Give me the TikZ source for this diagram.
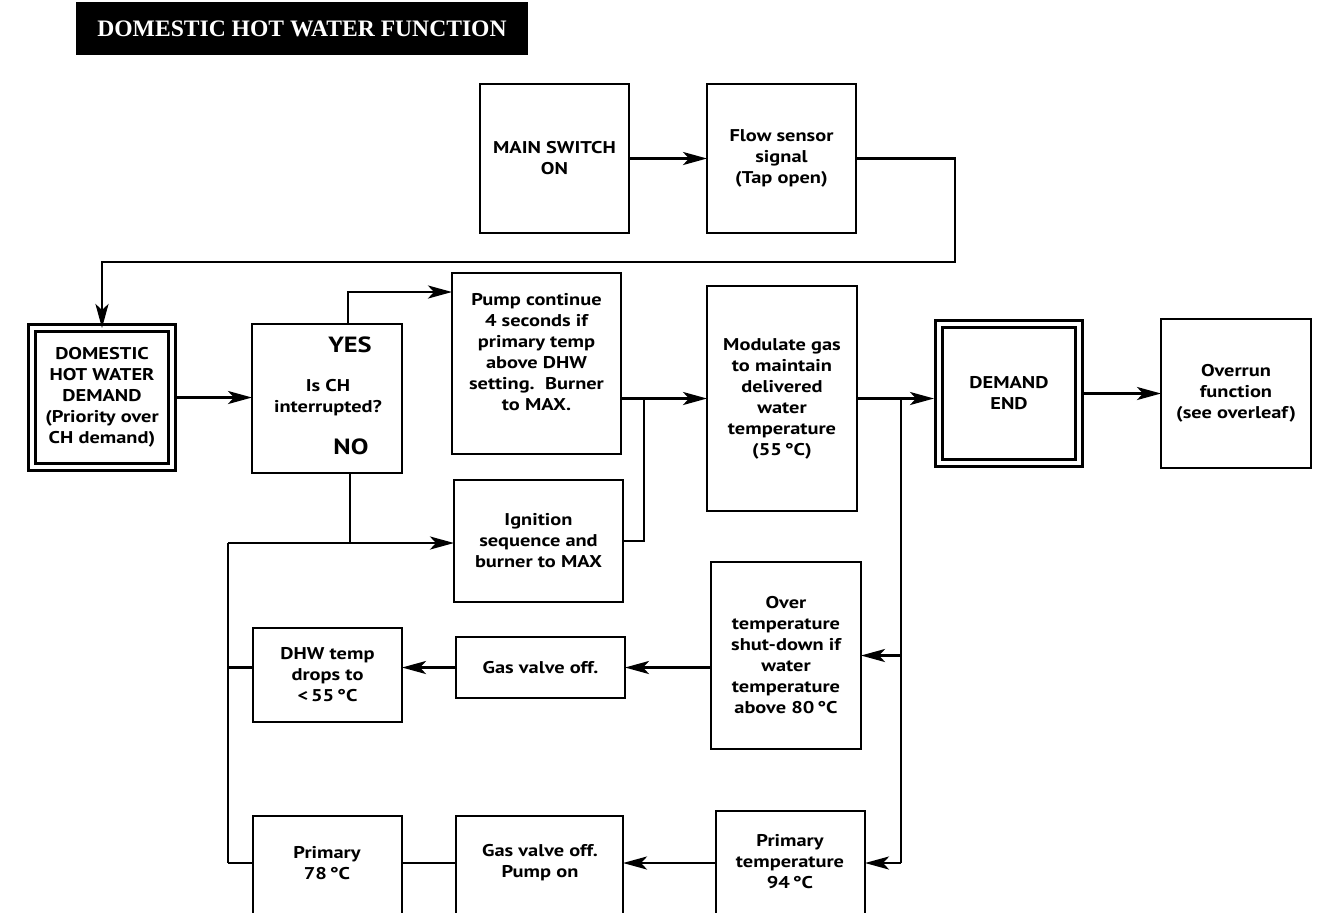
\documentclass[tikz,border=0pt]{standalone}
\usepackage{fontspec}
\setmainfont{PT Sans}[FakeStretch=1.2]
\newfontfamily\titlefont{Liberation Serif}
\usetikzlibrary{arrows.meta,calc}
\newcommand\boxat[6]{\node[box, minimum width={(#4-#2)*0.5pt}, minimum height={(#5-#3)*0.5pt}] (#1) at ({(#2+#4)/2},{(#3+#5)/2}) {#6};}
\newcommand\dboxat[6]{\node[dbox, minimum width={(#4-#2-10)*0.5pt}, minimum height={(#5-#3-10)*0.5pt}] (#1) at ({(#2+#4)/2},{(#3+#5)/2}) {#6};}
\tikzset{
  box/.style={draw, line width=1.3pt, inner sep=0pt, outer sep=0pt, align=center, font=\bfseries\fontsize{8.5}{10.5}\selectfont},
  dbox/.style={draw, line width=1.5pt, double, double distance=2pt, inner sep=0pt, outer sep=0pt, align=center, font=\bfseries\fontsize{8.5}{10.5}\selectfont},
  txt/.style={inner sep=0pt, align=center, font=\bfseries\fontsize{8.5}{10.5}\selectfont},
  big/.style={inner sep=0pt, font=\bfseries\fontsize{11}{13}\selectfont},
  conn/.style={line width=1.4pt},
  arr/.style={conn, -{Stealth[length=12pt,width=6.5pt,inset=3pt]}}
}
\begin{document}
\begin{tikzpicture}[x=0.5pt,y=-0.5pt]
\clip (0,0) rectangle (1332,912);
\useasboundingbox (0,0) rectangle (1332,912);
\fill[white] (0,0) rectangle (1332,912);
% title
\node[fill=black, text=white, inner sep=0pt, minimum width=226pt, minimum height=26.5pt] (title) at (302,28.5) {\titlefont\bfseries\fontsize{11.8}{14}\selectfont DOMESTIC HOT WATER FUNCTION};
% boxes
\boxat{main}{480}{84}{629}{233}{MAIN SWITCH\\ON}
\boxat{flow}{707}{84}{856}{233}{Flow sensor\\signal\\(Tap open)}
\dboxat{dhw}{27}{323}{177}{472}{DOMESTIC\\HOT WATER\\DEMAND\\(Priority over\\CH demand)}
\boxat{isch}{252}{324}{402}{473}{}
\node[big] (yes) at (350,345) {YES};
\node[txt] (ischT) at (328,397.5) {Is CH\\interrupted?};
\node[big] (no) at (351,447) {NO};
\boxat{pump}{452}{273}{621}{454}{}
\node[txt] (pumpT) at (536.5,352.5) {Pump continue\\4 seconds if\\primary temp\\above DHW\\setting.\ \ Burner\\to MAX.};
\boxat{ign}{454}{480}{623}{602}{Ignition\\sequence and\\burner to MAX}
\boxat{mod}{707}{286}{857}{511}{Modulate gas\\to maintain\\delivered\\water\\temperature\\(55\,°C)}
\dboxat{dend}{934}{319}{1084}{468}{DEMAND\\END}
\boxat{over}{1161}{319}{1311}{468}{Overrun\\function\\(see overleaf)}
\boxat{ot}{711}{562}{861}{749}{Over\\temperature\\shut-down if\\water\\temperature\\above 80\,°C}
\boxat{gv1}{456}{637}{625}{698}{Gas valve off.}
\boxat{dhwt}{253}{628}{402}{722}{DHW temp\\drops to\\<\,55\,°C}
\boxat{p78}{253}{816}{402}{940}{}
\node[txt] (p78T) at (327,863) {Primary\\78\,°C};
\boxat{gv2}{456}{816}{623}{940}{}
\node[txt] (gv2T) at (540,863) {Gas valve off.\\Pump on};
\boxat{p94}{716}{811}{865}{940}{}
\node[txt] (p94T) at (790,862) {Primary\\temperature\\94\,°C};
% coordinates
\coordinate (c1) at (955,262);
\coordinate (yesup) at (348,292);
\coordinate (nodn) at (350,543);
\coordinate (lt) at (228,543);
\coordinate (lb) at (228,863);
\coordinate (jn) at (644,398.5);
\coordinate (vt) at (901,398.5);
\coordinate (vb) at (901,863);
% connectors
\draw[arr] (main.east |- flow.west) -- (flow.west);
\draw[arr] (flow.east) -| (c1) -| (dhw.north);
\draw[arr] ([xshift=2.5pt]dhw.east) -- (isch.west |- dhw.east);
\draw[arr] (isch.north -| yesup) -- (yesup) -- (yesup -| pump.west);
\draw[arr] (isch.south -| nodn) -- (nodn) -- (nodn -| ign.west);
\draw[conn] (lt) -- (nodn);
\draw[conn] (lt) -- (lb);
\draw[arr] (pump.east |- mod.west) -- (mod.west);
\draw[conn] (ign.east) -| (jn);
\draw[arr] (mod.east) -- ([xshift=-2.5pt]mod.east -| dend.west);
\draw[conn] (vt) -- (vb);
\draw[arr] (vt |- ot.east) -- (ot.east);
\draw[arr] (ot.west |- gv1.east) -- (gv1.east);
\draw[arr] (gv1.west) -- (gv1.west -| dhwt.east);
\draw[conn] (gv1.west -| dhwt.west) -- (gv1.west -| lt);
\draw[arr] ([xshift=2.5pt]dend.east) -- (over.west |- dend.east);
\draw[arr] (vb) -- (vb -| p94.east);
\draw[arr] (vb -| p94.west) -- (vb -| gv2.east);
\draw[conn] (vb -| gv2.west) -- (vb -| p78.east);
\draw[conn] (vb -| p78.west) -- (lb);
\end{tikzpicture}
\end{document}
